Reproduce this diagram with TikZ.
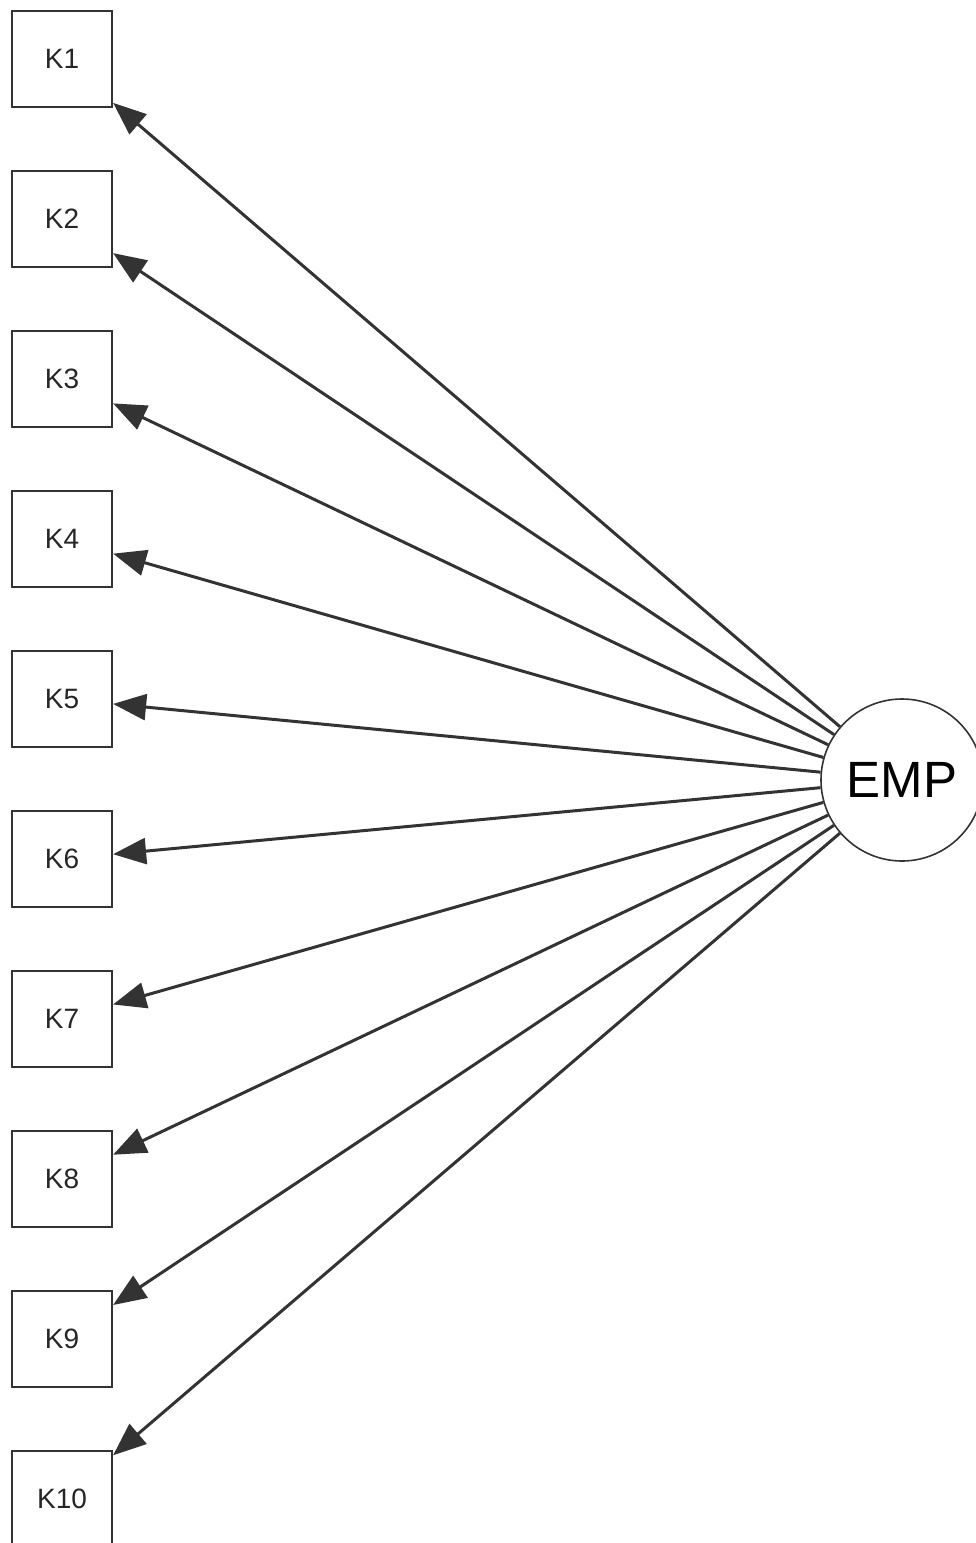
\documentclass[tikz,border=0pt]{standalone}
\usepackage{fontspec}
\setmainfont{Liberation Sans}
\usetikzlibrary{arrows.meta}
\definecolor{ln}{HTML}{333333}
\tikzset{
  kbox/.style={draw=ln, line width=2.2pt, fill=white, minimum width=100pt, minimum height=96pt, inner sep=0pt, font=\fontsize{28}{31}\selectfont, text=black!85},
  latent/.style={draw=ln, line width=1.6pt, fill=white, circle, minimum size=162pt, inner sep=0pt, font=\fontsize{51}{56}\selectfont},
  load/.style={draw=ln, line width=3pt, -{Triangle[length=33pt,width=26pt]}}
}
\begin{document}
\begin{tikzpicture}[x=1pt,y=-1pt]
\useasboundingbox (0,0) rectangle (976,1543);
\begin{scope}
\clip (0,0) rectangle (976,1543);
\node[latent] (emp) at (902,780) {EMP};
\foreach \i in {1,...,10} {
  \node[kbox] (k\i) at (62,{59+160*(\i-1)}) {K\i};
}
\foreach \i in {1,...,10} {
  \draw[load] (emp) -- (k\i);
}
\end{scope}
\end{tikzpicture}
\end{document}
